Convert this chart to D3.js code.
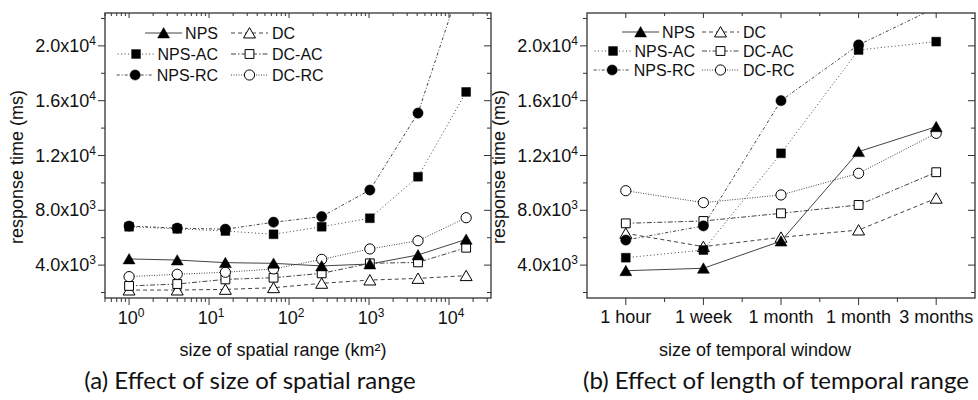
<!DOCTYPE html>
<html>
<head>
<meta charset="utf-8">
<script src="https://cdn.jsdelivr.net/npm/d3@7"></script>
<style>
  body { margin: 0; background: #fff; }
  svg { display: block; }
  text { font-family: "Liberation Sans", Arial, sans-serif; fill: #111; }
  .caption { font-family: Lato, "Open Sans", sans-serif; fill: #111; }
</style>
</head>
<body>
<svg id="chart" width="978" height="400"></svg>
<script>
// (a) spatial range, x = km^2
const spatialSizes = [1, 4, 16, 64, 256, 1024, 4096, 16384];
const spatialNPS   = [4450, 4370, 4180, 4130, 3940, 4080, 4740, 5880];
const spatialDC    = [2180, 2180, 2230, 2350, 2670, 2910, 3030, 3230];
const spatialNPSAC = [6800, 6650, 6490, 6250, 6800, 7420, 10450, 16640];
const spatialDCAC  = [2480, 2620, 2960, 3080, 3400, 4130, 4200, 5270];
const spatialNPSRC = [6850, 6700, 6620, 7130, 7540, 9480, 15100, 25700];
const spatialDCRC  = [3160, 3330, 3480, 3720, 4420, 5180, 5780, 7460];

// (b) temporal window
const temporalLabels = ["1 hour", "1 week", "1 month", "1 month", "3 months"];
const temporalNPS   = [3590, 3770, 5750, 12280, 14100];
const temporalDC    = [6320, 5350, 6030, 6560, 8880];
const temporalNPSAC = [4540, 5100, 12160, 19700, 20310];
const temporalDCAC  = [7050, 7220, 7780, 8390, 10780];
const temporalNPSRC = [5830, 6860, 16000, 20070, 22800];
const temporalDCRC  = [9430, 8560, 9120, 10700, 13620];

const yTicks = [4000, 8000, 12000, 16000, 20000];
const yDomain = [1600, 22400];
const seriesNames = ["NPS", "DC", "NPS-AC", "DC-AC", "NPS-RC", "DC-RC"];

const styles = {
  "NPS":    { shape: "triangle", fill: true,  dash: null },
  "DC":     { shape: "triangle", fill: false, dash: "4,3" },
  "NPS-AC": { shape: "square",   fill: true,  dash: "1,2.5" },
  "DC-AC":  { shape: "square",   fill: false, dash: "5,2,1.5,2" },
  "NPS-RC": { shape: "circle",   fill: true,  dash: "3,2,1,2" },
  "DC-RC":  { shape: "circle",   fill: false, dash: "1,1.5" }
};

const svg = d3.select("#chart");

const symbolFor = s => {
  if (s === "triangle") return d3.symbol().type(d3.symbolTriangle).size(62)();
  if (s === "square") return d3.symbol().type(d3.symbolSquare).size(78)();
  return d3.symbol().type(d3.symbolCircle).size(82)();
};

function drawMarker(g, name, x, y) {
  const st = styles[name];
  const dy = st.shape === "triangle" ? 1.5 : 0;
  g.append("path")
    .attr("d", symbolFor(st.shape))
    .attr("transform", `translate(${x},${y + dy})`)
    .attr("fill", st.fill ? "#000" : "#fff")
    .attr("stroke", "#000")
    .attr("stroke-width", st.fill ? 0.5 : 1);
}

function supLabel(sel, base, exp) {
  sel.append("tspan").text(base);
  sel.append("tspan").attr("dy", -7).attr("font-size", 12).text(exp);
}

function drawPanel(o) {
  const g = svg.append("g");
  const { x, y, box } = o;
  const clipId = "clip" + o.id;
  g.append("clipPath").attr("id", clipId)
    .append("rect")
    .attr("x", box.left).attr("y", box.top)
    .attr("width", box.right - box.left).attr("height", box.bottom - box.top);

  // y ticks, left outward + right inward
  const yMinor = d3.range(2000, 22400, 2000);
  yMinor.forEach(v => {
    const major = yTicks.includes(v);
    const len = major ? 7 : 4;
    g.append("line").attr("x1", box.left - len).attr("x2", box.left)
      .attr("y1", y(v)).attr("y2", y(v)).attr("stroke", "#333");
    g.append("line").attr("x1", box.right - len).attr("x2", box.right)
      .attr("y1", y(v)).attr("y2", y(v)).attr("stroke", "#333");
  });
  yTicks.forEach(v => {
    const e = Math.floor(Math.log10(v));
    const t = g.append("text")
      .attr("x", box.left - 9).attr("y", y(v) + 6)
      .attr("text-anchor", "end").attr("font-size", 18);
    supLabel(t, (v / Math.pow(10, e)).toFixed(1) + "x10", e);
  });

  // x ticks
  o.xTicks.forEach(tk => {
    const px = x(tk.v);
    const len = tk.major ? 7 : 4;
    g.append("line").attr("x1", px).attr("x2", px)
      .attr("y1", box.bottom).attr("y2", box.bottom + len).attr("stroke", "#333");
    g.append("line").attr("x1", px).attr("x2", px)
      .attr("y1", box.top).attr("y2", box.top + (tk.major ? 5 : 3)).attr("stroke", "#333");
  });
  o.xLabels(g);

  // frame
  g.append("rect")
    .attr("x", box.left).attr("y", box.top)
    .attr("width", box.right - box.left).attr("height", box.bottom - box.top)
    .attr("fill", "none").attr("stroke", "#333").attr("stroke-width", 1.3);

  // series
  const plot = g.append("g").attr("clip-path", `url(#${clipId})`);
  const line = d3.line().x(d => x(d[0])).y(d => y(d[1]));
  seriesNames.forEach(name => {
    const pts = o.xs.map((xv, i) => [xv, o.values[name][i]]);
    plot.append("path").datum(pts)
      .attr("d", line)
      .attr("fill", "none")
      .attr("stroke", "#444")
      .attr("stroke-width", 1)
      .attr("stroke-dasharray", styles[name].dash);
  });
  ["DC", "DC-AC", "DC-RC", "NPS", "NPS-AC", "NPS-RC"].forEach(name => {
    o.xs.forEach((xv, i) => drawMarker(plot, name, x(xv), y(o.values[name][i])));
  });

  // legend
  const lg = o.legend;
  [["NPS", "NPS-AC", "NPS-RC"], ["DC", "DC-AC", "DC-RC"]].forEach((col, ci) => {
    col.forEach((name, ri) => {
      const ry = lg.rows[ri];
      const t = g.append("text").attr("font-size", 16).attr("y", ry + 6).text(name);
      let x0, x1;
      if (ci === 0) {
        t.attr("x", lg.col1End).attr("text-anchor", "end");
        const w = t.node().getComputedTextLength();
        x1 = lg.col1End - w - 3;
        x0 = x1 - 37;
      } else {
        t.attr("x", lg.col2Text);
        x1 = lg.col2Text - 4;
        x0 = x1 - 37;
      }
      g.append("line").attr("x1", x0).attr("x2", x1).attr("y1", ry).attr("y2", ry)
        .attr("stroke", "#444").attr("stroke-dasharray", styles[name].dash);
      drawMarker(g, name, (x0 + x1) / 2, ry);
    });
  });

  // axis titles
  g.append("text")
    .attr("transform", `translate(${o.yTitleX},167) rotate(-90)`)
    .attr("text-anchor", "middle").attr("font-size", 18)
    .text("response time (ms)");
  g.append("text")
    .attr("x", o.xTitleX).attr("y", 356)
    .attr("text-anchor", "middle").attr("font-size", 18)
    .text(o.xTitle);
  g.append("text").attr("class", "caption")
    .attr("x", o.captionX).attr("y", 389)
    .attr("text-anchor", "middle").attr("font-size", 24)
    .text(o.caption);
}

const yA = d3.scaleLinear().domain(yDomain).range([298, 13]);
const xA = d3.scaleLog().domain([0.5, 33500]).range([105, 491]);
const logTicks = [];
for (let e = -1; e <= 4; e++) {
  for (let k = 1; k <= 9; k++) {
    const v = k * Math.pow(10, e);
    if (v >= 0.5 && v <= 33500) logTicks.push({ v, major: k === 1 });
  }
}

drawPanel({
  id: "a",
  x: xA, y: yA,
  box: { left: 105, right: 491, top: 13, bottom: 298 },
  xs: spatialSizes,
  values: {
    "NPS": spatialNPS, "DC": spatialDC, "NPS-AC": spatialNPSAC,
    "DC-AC": spatialDCAC, "NPS-RC": spatialNPSRC, "DC-RC": spatialDCRC
  },
  xTicks: logTicks,
  xLabels: g => {
    [1, 10, 100, 1000, 10000].forEach(v => {
      const t = g.append("text").attr("x", xA(v) + 2).attr("y", 324)
        .attr("text-anchor", "middle").attr("font-size", 18);
      supLabel(t, "10", Math.round(Math.log10(v)));
    });
  },
  legend: { rows: [33, 54, 75], col1End: 218, col2Text: 272 },
  yTitleX: 23,
  xTitleX: 283,
  xTitle: "size of spatial range (km²)",
  captionX: 250,
  caption: "(a) Effect of size of spatial range"
});

const yB = d3.scaleLinear().domain(yDomain).range([298, 13]);
const xB = d3.scaleLinear().domain([0.5, 5.5]).range([587, 975]);
const catIdx = temporalLabels.map((d, i) => i + 1);
const catTicks = d3.range(1, 5.5, 0.5).map(v => ({ v, major: Number.isInteger(v) }));

drawPanel({
  id: "b",
  x: xB, y: yB,
  box: { left: 587, right: 975, top: 13, bottom: 298 },
  xs: catIdx,
  values: {
    "NPS": temporalNPS, "DC": temporalDC, "NPS-AC": temporalNPSAC,
    "DC-AC": temporalDCAC, "NPS-RC": temporalNPSRC, "DC-RC": temporalDCRC
  },
  xTicks: catTicks,
  xLabels: g => {
    temporalLabels.forEach((lab, i) => {
      g.append("text").attr("x", xB(i + 1)).attr("y", 323)
        .attr("text-anchor", "middle").attr("font-size", 18).text(lab);
    });
  },
  legend: { rows: [32, 51, 70], col1End: 695, col2Text: 743 },
  yTitleX: 505,
  xTitleX: 755,
  xTitle: "size of temporal window",
  captionX: 776,
  caption: "(b) Effect of length of temporal range"
});
</script>
</body>
</html>
